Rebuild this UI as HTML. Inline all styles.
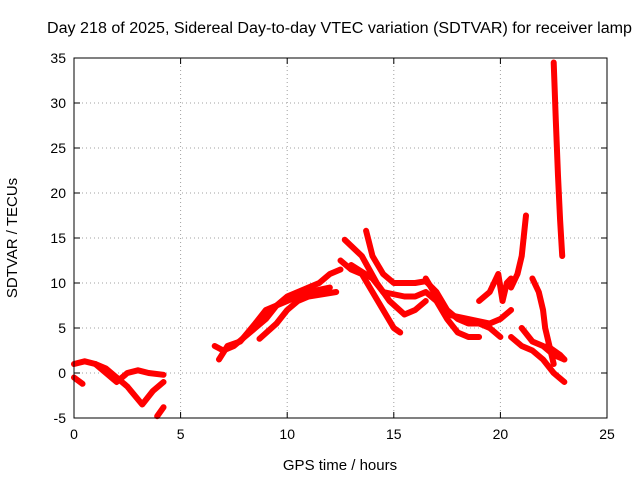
<!DOCTYPE html>
<html><head><meta charset="utf-8"><style>
body{margin:0;background:#fff}
svg text{font-family:"Liberation Sans",sans-serif;font-size:14px;fill:#000}
</style></head><body>
<svg id="chart" width="640" height="480" viewBox="0 0 640 480" xmlns="http://www.w3.org/2000/svg">
<text x="47" y="33" textLength="585" lengthAdjust="spacingAndGlyphs" style="font-size:15.5px">Day 218 of 2025, Sidereal Day-to-day VTEC variation (SDTVAR) for receiver lamp</text>
<text x="340" y="470" text-anchor="middle" style="font-size:15px">GPS time / hours</text>
<text x="17" y="238" text-anchor="middle" transform="rotate(-90 17 238)" style="font-size:15px">SDTVAR / TECUs</text>
<g id="grid"></g><g id="ticks"></g><g id="series"></g>
<rect x="74" y="58" width="533" height="360" fill="none" stroke="#000" stroke-width="1"/>
</svg>
<script>
const xTicks=[0,5,10,15,20,25];
const yTicks=[-5,0,5,10,15,20,25,30,35];
const tracks=[
[[0,1],[0.5,1.3],[1,1],[1.5,0.5],[2,-0.5],[2.5,-1.5],[3.2,-3.5],[3.7,-2],[4.2,-1]],
[[1,1],[1.5,0],[2,-1],[2.5,0],[3,0.3],[3.5,0],[4.2,-0.2]],
[[0,-0.5],[0.4,-1.2]],
[[3.9,-4.8],[4.2,-3.8]],
[[6.6,3],[7,2.5],[7.5,3],[8,4],[8.5,5],[9,6],[9.5,7.5],[10,8.5],[10.5,9],[11,9.5],[11.5,10],[12,11],[12.5,11.5]],
[[6.8,1.5],[7.2,3],[7.8,3.5],[8.5,5.5],[9,7],[10,8],[11,9],[12,9.5]],
[[8.7,3.8],[9.5,5.5],[10,7],[10.5,8],[11,8.5],[12.3,9]],
[[12.5,12.5],[13,11.5],[13.5,11],[14,9],[14.5,7],[15,5],[15.3,4.5]],
[[12.7,14.8],[13.5,13],[14.2,10],[14.8,8],[15.5,6.5],[16,7],[16.5,8]],
[[13.7,15.8],[14,13],[14.5,11],[15,10],[16,10],[16.5,10.2],[17,9],[17.5,7],[18,6],[18.5,5.5],[19,5.5],[19.5,5],[20,4]],
[[13,12],[14,10.5],[14.5,9],[15.5,8.5],[16,8.5],[16.5,9],[17,8],[17.5,6],[18,4.5],[18.5,4],[19,4]],
[[16.5,10.5],[17,8.5],[17.5,6.5],[18.5,6],[19.5,5.5],[20,6],[20.5,7]],
[[19,8],[19.5,9],[19.9,11],[20.1,8],[20.3,10],[20.5,10.5]],
[[20.5,9.5],[20.8,11],[21,13],[21.2,17.5]],
[[20.5,4],[21,3],[21.5,2.5],[22,1.5],[22.5,0],[23,-1]],
[[21,5],[21.5,3.5],[22,3],[22.5,2],[23,1.5]],
[[21.5,10.5],[21.8,9],[22,7],[22.1,5],[22.3,3],[22.5,1]],
[[22.5,34.5],[22.6,28],[22.7,22],[22.8,17],[22.9,13]],
[[22.2,3],[22.5,2.5],[22.8,2],[23,1.5]]
];
const X0=74,X1=607,Y0=418,Y1=58;
const xs=v=>X0+(v-0)/(25-0)*(X1-X0);
const ys=v=>Y0-(v+5)/(35+5)*(Y0-Y1);
const NS="http://www.w3.org/2000/svg";
const grid=document.getElementById('grid'),tk=document.getElementById('ticks'),ser=document.getElementById('series');
function mk(tag,attrs,parent){const e=document.createElementNS(NS,tag);for(const k in attrs)e.setAttribute(k,attrs[k]);parent.appendChild(e);return e;}
xTicks.forEach(t=>{const x=xs(t);
 if(t>0&&t<25){const g=mk('line',{x1:x,x2:x,y1:Y1,y2:Y0,stroke:'#a0a0a0','stroke-dasharray':'1,3'},grid);
 
 }
 mk('line',{x1:x,x2:x,y1:Y0,y2:Y0-6,stroke:'#000'},tk);mk('line',{x1:x,x2:x,y1:Y1,y2:Y1+6,stroke:'#000'},tk);
 const l=mk('text',{x:x,y:Y0+21,'text-anchor':'middle'},tk);l.textContent=t;
 
 });
yTicks.forEach(t=>{const y=ys(t);
 if(t>-5&&t<35){const g=mk('line',{x1:X0,x2:X1,y1:y,y2:y,stroke:'#a0a0a0','stroke-dasharray':'1,3'},grid);
 
 }
 mk('line',{x1:X0,x2:X0+6,y1:y,y2:y,stroke:'#000'},tk);mk('line',{x1:X1,x2:X1-6,y1:y,y2:y,stroke:'#000'},tk);
 const l=mk('text',{x:X0-8,y:y+5,'text-anchor':'end'},tk);l.textContent=t;
 
 });
tracks.forEach(tr=>{const p=mk('polyline',{points:tr.map(d=>xs(d[0])+','+ys(d[1])).join(' '),fill:'none',stroke:'#f00','stroke-width':6,'stroke-linejoin':'round','stroke-linecap':'round'},ser);
 
 });
</script>
</body></html>
